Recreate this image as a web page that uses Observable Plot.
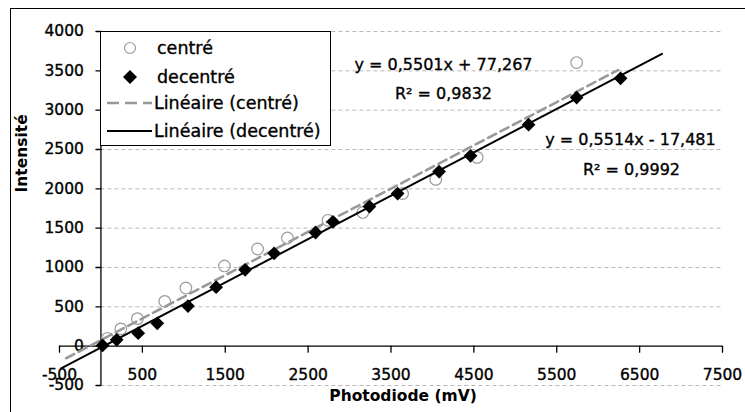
<!DOCTYPE html>
<html><head><meta charset="utf-8">
<script src="https://cdn.jsdelivr.net/npm/d3@7"></script>
<script src="https://cdn.jsdelivr.net/npm/@observablehq/plot@0.6"></script>
<style>
html,body{margin:0;padding:0;background:#fff;overflow:hidden;}
#wrap{position:relative;width:745px;height:412px;overflow:hidden;}
#frame{position:absolute;left:10px;top:8px;width:760px;height:430px;border:1.5px solid #000;box-sizing:border-box;}
#chart{position:absolute;left:0;top:0;}
#legend{position:absolute;left:100px;top:31px;width:231px;height:115px;background:#fff;border:1px solid #000;box-sizing:border-box;}
</style></head><body>
<div id="wrap"><div id="frame"></div><div id="chart"></div><div id="legend"></div></div>
<script>
// ---- data ----
const centreX = [80, 240, 440, 770, 1025, 1490, 1890, 2250, 2740, 3160, 3640, 4040, 4540, 5740];
const centreY = [100, 220, 350, 570, 740, 1020, 1235, 1375, 1600, 1700, 1940, 2120, 2400, 3605];
const decentreX = [20, 190, 450, 680, 1050, 1390, 1740, 2090, 2590, 2800, 3240, 3580, 4080, 4460, 5160, 5740, 6270];
const decentreY = [10, 80, 165, 290, 510, 750, 970, 1180, 1445, 1580, 1775, 1940, 2220, 2420, 2815, 3160, 3405];
const trendC = {slope: 0.5501, intercept: 77.267};
const trendD = {slope: 0.5514, intercept: -17.481};
const forecast = 500;
const xTicks = [-500, 500, 1500, 2500, 3500, 4500, 5500, 6500, 7500];
const yTicks = [-500, 0, 500, 1000, 1500, 2000, 2500, 3000, 3500, 4000];
const legendLabels = ["centré", "decentré", "Linéaire (centré)", "Linéaire (decentré)"];
const eqC = ["y = 0,5501x + 77,267", "R² = 0,9832"];
const eqD = ["y = 0,5514x - 17,481", "R² = 0,9992"];
const xTitle = "Photodiode (mV)";
const yTitle = "Intensité";

// ---- tables ----
const centre = centreX.map((x, i) => ({x, y: centreY[i]}));
const decentre = decentreX.map((x, i) => ({x, y: decentreY[i]}));
function trendPts(xs, t) {
  const x0 = d3.min(xs) - forecast, x1 = d3.max(xs) + forecast;
  return [x0, x1].map(x => ({x, y: t.slope * x + t.intercept}));
}
const lineC = trendPts(centreX, trendC);
const lineD = trendPts(decentreX, trendD);
const xMin = xTicks[0], xMax = xTicks[xTicks.length - 1];
const yMin = yTicks[0], yMax = yTicks[yTicks.length - 1];

const tickShape = {draw(ctx, l) { ctx.moveTo(0, 0); ctx.lineTo(0, -l); }};
const FONT = "DejaVu Sans";
const txt = {fill: "#000", stroke: "#000", strokeWidth: 0.35};

const plot = Plot.plot({
  width: 745, height: 412,
  marginLeft: 59, marginRight: 23, marginTop: 31, marginBottom: 27,
  x: {domain: [xMin, xMax], axis: null},
  y: {domain: [yMin, yMax], axis: null},
  style: {fontFamily: FONT, fontSize: "15px", background: "transparent", overflow: "visible", color: "#000"},
  marks: [
    Plot.ruleY(yTicks.filter(d => d !== 0), {x1: 0, x2: xMax, stroke: "#b8b8b8", strokeWidth: 1, strokeDasharray: "4,3"}),
    Plot.ruleX([0], {y1: yMin, y2: yMax, stroke: "#000", strokeWidth: 1.3}),
    Plot.ruleY([0], {x1: xMin, x2: xMax, stroke: "#000", strokeWidth: 1.3}),
    Plot.vector(yTicks, {x: () => 0, y: d => d, length: 5, rotate: -90, anchor: "start", shape: tickShape, stroke: "#000", strokeWidth: 1.3}),
    Plot.vector(xTicks, {x: d => d, y: () => 0, length: 6, rotate: 180, anchor: "start", shape: tickShape, stroke: "#000", strokeWidth: 1.3}),
    Plot.text(yTicks, {x: () => 0, y: d => d, text: d => String(d), dx: -17, textAnchor: "end", fontSize: 15.5, ...txt}),
    Plot.text(xTicks, {x: d => d, y: () => 0, text: d => String(d), dy: 29, fontSize: 15.5, ...txt}),
    Plot.dot(centre, {x: "x", y: "y", symbol: "circle", r: 5.8, stroke: "#9a9a9a", strokeWidth: 1.2, fill: "none"}),
    Plot.line(lineC, {x: "x", y: "y", stroke: "#999", strokeWidth: 2.6, strokeDasharray: "9,5"}),
    Plot.line(lineD, {x: "x", y: "y", stroke: "#000", strokeWidth: 2}),
    Plot.dot(decentre, {x: "x", y: "y", symbol: "diamond2", r: 6.2, fill: "#000", stroke: "none"}),
    Plot.text([eqC[0]], {frameAnchor: "top-left", textAnchor: "middle", dx: 384, dy: 27, fontSize: 16, ...txt}),
    Plot.text([eqC[1]], {frameAnchor: "top-left", textAnchor: "middle", dx: 384, dy: 56, fontSize: 16, ...txt}),
    Plot.text([eqD[0]], {frameAnchor: "top-left", textAnchor: "middle", dx: 571, dy: 102, fontSize: 16, ...txt}),
    Plot.text([eqD[1]], {frameAnchor: "top-left", textAnchor: "middle", dx: 572, dy: 132, fontSize: 16, ...txt}),
    Plot.text([xTitle], {frameAnchor: "bottom", dx: 12, dy: 15, fontSize: 15.5, fontWeight: "bold"}),
    Plot.text([yTitle], {frameAnchor: "left", dx: -37, dy: -16, rotate: -90, fontSize: 15.5, fontWeight: "bold"})
  ]
});
document.getElementById("chart").appendChild(plot);

// ---- legend ----
const lg = d3.select("#legend").append("svg").attr("width", 229).attr("height", 113)
  .style("font-family", FONT).style("font-size", "17.5px");
const rowY = [16, 45, 71, 99];
lg.append("circle").attr("cx", 29).attr("cy", rowY[0]).attr("r", 5.5).attr("fill", "none").attr("stroke", "#9a9a9a").attr("stroke-width", 1.2);
lg.append("path").attr("transform", `translate(29,${rowY[1]})`).attr("d", d3.symbol(d3.symbolDiamond2, 125)()).attr("fill", "#000");
lg.append("line").attr("x1", 6).attr("x2", 51).attr("y1", rowY[2]).attr("y2", rowY[2]).attr("stroke", "#999").attr("stroke-width", 2.6).attr("stroke-dasharray", "12,6");
lg.append("line").attr("x1", 6).attr("x2", 51).attr("y1", rowY[3]).attr("y2", rowY[3]).attr("stroke", "#000").attr("stroke-width", 2);
lg.selectAll("text.l").data(legendLabels).join("text").attr("class", "l")
  .attr("x", (d, i) => i < 2 ? 56 : 53).attr("y", (d, i) => rowY[i]).attr("dy", "0.35em")
  .attr("stroke", "#000").attr("stroke-width", 0.35).text(d => d);
</script>
</body></html>
